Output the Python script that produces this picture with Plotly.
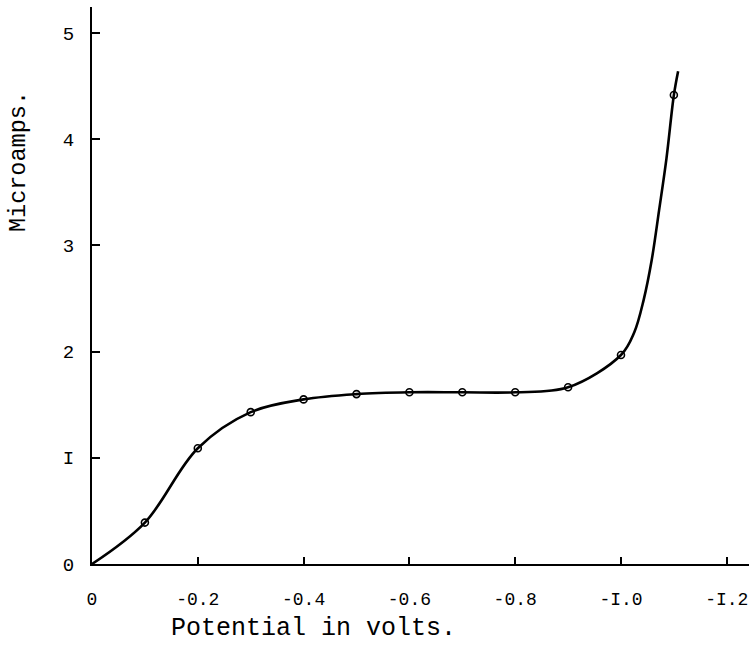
import plotly.graph_objects as go

# Measured points (potential in volts, current in microamps)
potential = [-0.1, -0.2, -0.3, -0.4, -0.5, -0.6, -0.7, -0.8, -0.9, -1.0, -1.1]
current = [0.39, 1.09, 1.43, 1.55, 1.60, 1.617, 1.617, 1.617, 1.664, 1.968, 4.416]

# Hand-drawn smooth curve
curve_x = [0.0, -0.1, -0.2, -0.3, -0.4, -0.5, -0.6, -0.7, -0.8, -0.9, -1.0,
           -1.025, -1.043, -1.058, -1.072, -1.086, -1.1, -1.108]
curve_y = [0.0, 0.39, 1.09, 1.43, 1.55, 1.60, 1.617, 1.617, 1.617, 1.664, 1.968,
           2.18, 2.49, 2.86, 3.33, 3.82, 4.416, 4.64]

x_tickvals = [0, -0.2, -0.4, -0.6, -0.8, -1.0, -1.2]
x_ticktext = ["0", "-0.2", "-0.4", "-0.6", "-0.8", "-I.0", "-I.2"]
y_tickvals = [0, 1, 2, 3, 4, 5]
y_ticktext = ["0", "I", "2", "3", "4", "5"]

FONT = "Liberation Mono, DejaVu Sans Mono, monospace"
INK = "#000000"

fig = go.Figure()
fig.add_trace(go.Scatter(
    x=curve_x, y=curve_y, mode="lines",
    line=dict(color=INK, width=2.6, shape="spline", smoothing=1.0),
    hoverinfo="skip", showlegend=False,
))
fig.add_trace(go.Scatter(
    x=potential, y=current, mode="markers",
    marker=dict(symbol="circle-open", size=7, color=INK, line=dict(width=1.6, color=INK)),
    showlegend=False,
))

fig.update_layout(
    width=749, height=663,
    margin=dict(l=92, r=0, t=7, b=99),
    paper_bgcolor="white", plot_bgcolor="white",
    font=dict(family=FONT, color=INK),
    xaxis=dict(
        range=[0, -1.242], tickvals=x_tickvals, ticktext=x_ticktext,
        showgrid=False, zeroline=False, showline=True, linecolor=INK, linewidth=2,
        ticks="inside", ticklen=7, tickwidth=1.5, tickcolor=INK,
        tickfont=dict(size=18, family=FONT, color=INK),
        ticklabelstandoff=17,
    ),
    yaxis=dict(
        range=[0, 5.245], tickvals=y_tickvals, ticktext=y_ticktext,
        showgrid=False, zeroline=False, showline=True, linecolor=INK, linewidth=2,
        ticks="inside", ticklen=8, tickwidth=1.5, tickcolor=INK,
        tickfont=dict(size=19, family=FONT, color=INK),
        ticklabelstandoff=12,
    ),
    annotations=[
        dict(text="Potential in volts.", xref="paper", yref="paper",
             x=0.3364, y=-0.115, xanchor="center", yanchor="middle", showarrow=False,
             font=dict(size=25, family=FONT, color=INK)),
        dict(text="Microamps.", xref="paper", yref="paper", textangle=-90,
             x=-0.1126, y=0.7217, xanchor="center", yanchor="middle", showarrow=False,
             font=dict(size=23.5, family=FONT, color=INK)),
    ],
)

fig.write_html("out.html")
